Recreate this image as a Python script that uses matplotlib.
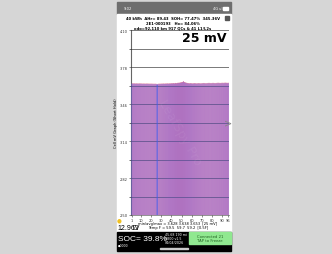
import numpy as np
import matplotlib
matplotlib.use("Agg")
import matplotlib.pyplot as plt
from matplotlib.patches import Rectangle

W, H = 332, 255

# cell voltages (V), 96 cells
cells = list(range(1, 97))
volts = [3.636, 3.635, 3.635, 3.635, 3.634, 3.635, 3.634, 3.634, 3.635, 3.634,
         3.634, 3.633, 3.634, 3.633, 3.633, 3.634, 3.633, 3.633, 3.632, 3.633,
         3.632, 3.632, 3.631, 3.632, 3.631, 3.628, 3.631, 3.632, 3.632, 3.633,
         3.633, 3.634, 3.633, 3.634, 3.634, 3.635, 3.634, 3.635, 3.635, 3.636,
         3.636, 3.637, 3.636, 3.638, 3.637, 3.639, 3.640, 3.641, 3.643, 3.645,
         3.647, 3.653, 3.646, 3.643, 3.640, 3.638, 3.637, 3.636, 3.637, 3.636,
         3.635, 3.636, 3.637, 3.636, 3.635, 3.636, 3.637, 3.636, 3.635, 3.636,
         3.637, 3.638, 3.637, 3.636, 3.637, 3.638, 3.639, 3.638, 3.637, 3.638,
         3.639, 3.638, 3.637, 3.638, 3.639, 3.640, 3.639, 3.638, 3.639, 3.640,
         3.639, 3.640, 3.641, 3.640, 3.639, 3.640]
hold = [v + 0.004 for v in volts]
min_cell = 26
yticks = [2.50, 2.82, 3.14, 3.46, 3.78, 4.10]
xticks = [1, 10, 20, 30, 40, 50, 60, 70, 80, 90, 96]

header = ["40 kWh  AHr= 89.43  SOH= 77.47%  345.36V",
          "2E1-000193   Hx= 84.06%",
          "odo=92,110 km 917 QCs & 41 L1/L2s"]
stats = ["min/avg/max = 3.628 3.638 3.653  [25 mV]",
         "Temp F = 59.5  59.7  59.2  [0.5F]"]

narrow = ["Liberation Sans Narrow", "Liberation Sans", "DejaVu Sans"]


def fx(x):
    return x / W


def fy(y):
    return 1 - y / H


def box(x0, y0, x1, y1, color, **kw):
    fig.patches.append(Rectangle((fx(x0), fy(y1)), fx(x1 - x0), (y1 - y0) / H,
                                 transform=fig.transFigure, color=color,
                                 zorder=-1, **kw))


def txt(x, y, s, **kw):
    fig.text(fx(x), fy(y), s, **kw)


fig = plt.figure(figsize=(W / 100, H / 100), dpi=100)
fig.patch.set_facecolor("#d6d6d6")

# phone screen
box(117, 3, 231, 15, "#6e6e6e")
box(117, 15, 231, 233, "white")
box(117, 233, 231, 252, "black")
box(189, 233, 231, 245, "#90e890")
box(160, 248.5, 188, 249.8, "#cccccc")

txt(124, 9, "9:02", color="white", fontsize=2.6, va="center")
txt(213, 9, "4G ull", color="white", fontsize=2.6, va="center")
box(223, 7.5, 228, 10.5, "white")

for i, s in enumerate(header):
    txt(173, 19 + i * 4.6, s, fontsize=2.7, weight="bold", ha="center", va="center")
box(225, 17, 229, 21, "#555555")

# chart
ax = fig.add_axes([fx(131), fy(216), fx(98), 185 / H])
ax.set_zorder(2)
ax.patch.set_alpha(0)
b1 = ax.bar(cells, hold, width=0.9, color="#d84a70", alpha=0.75, zorder=2, lw=0)
b2 = ax.bar(cells, volts, width=0.6, color="#6a5cf0", alpha=0.7, zorder=3, lw=0)
b3 = ax.bar([min_cell], [volts[min_cell - 1]], width=0.8, color="#3a5cf0",
            zorder=4, lw=0)
for bars in (b1, b2, b3):
    for r in bars:
        r.set_snap(False)
ax.set_xlim(0.3, 96.7)
ax.set_ylim(2.50, 4.10)
ax.set_yticks(yticks)
ax.set_yticklabels(["%.2f" % v for v in yticks])
ax.set_yticks(np.arange(2.50, 4.11, 0.16), minor=True)
ax.set_xticks(xticks)
ax.grid(True, which="both", axis="y", color="#444444", lw=0.5, zorder=5)
ax.set_axisbelow(False)
ax.tick_params(labelsize=2.6, length=1.5, width=0.4, pad=1, colors="#333333")
ax.tick_params(which="minor", length=1.5, width=0.4)
for sp in ["top", "right"]:
    ax.spines[sp].set_visible(False)
ax.spines["left"].set_color("#666666")
ax.spines["left"].set_linewidth(0.8)
ax.spines["bottom"].set_color("#666666")
ax.spines["bottom"].set_linewidth(0.5)
ax.set_ylabel("Cell mV Graph (Short Hold)", fontsize=2.6, labelpad=1)
ax.text(0.5, 0.45, "LeafSpy Pro", transform=ax.transAxes, fontsize=9,
        rotation=-60, color="white", alpha=0.06, ha="center", va="center", zorder=6)

txt(227, 38, "25 mV", fontsize=9, weight="bold", ha="right", va="center", zorder=5)
txt(228, 124, ">", fontsize=7, color="#888888", ha="center", va="center", zorder=5)

for i, s in enumerate(stats):
    txt(178, 224.5 + i * 3.8, s, fontsize=2.6, ha="center", va="center")

txt(119, 221, "\u25CF", fontsize=4, color="#f0c020", ha="center", va="center")
txt(117, 229, "12.96V", fontsize=5, family=narrow, ha="left", va="center")
box(133, 226, 137, 230, "white", ec="black", lw=0.4)

txt(117.5, 239.5, "SOC= 39.8%", fontsize=6, family=narrow, color="white",
    ha="left", va="center")
txt(118, 246, "\u25CF0000", fontsize=2.2, color="white", ha="left", va="center")
for i, s in enumerate(["45.68 190 mi", "8800 v1.5", "04/04/2026"]):
    txt(165, 235.5 + i * 3.6, s, fontsize=2.3, color="white", ha="left", va="center")
txt(210, 237, "Connected 21", fontsize=2.7, color="#206020", ha="center", va="center")
txt(210, 241, "TAP to Freeze", fontsize=2.7, color="#206020", ha="center", va="center")

fig.savefig("out.png", dpi=100)
